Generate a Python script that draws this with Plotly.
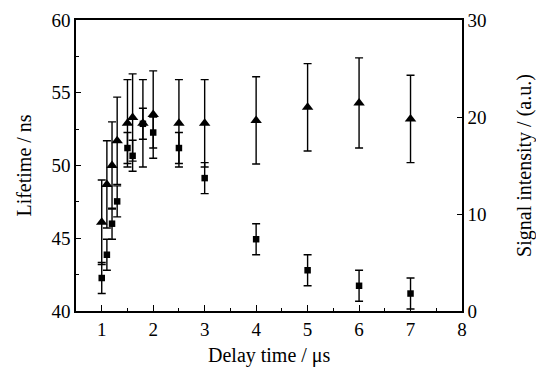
import plotly.graph_objects as go

# Data
delay = [1.0, 1.1, 1.2, 1.3, 1.5, 1.6, 1.8, 2.0, 2.5, 3.0, 4.0, 5.0, 6.0, 7.0]
lifetime = [46.1, 48.7, 50.0, 51.7, 52.9, 53.3, 52.9, 53.5, 52.9, 52.9, 53.1, 54.0, 54.3, 53.2]
lifetime_err = [2.9, 3.0, 3.0, 3.0, 3.0, 3.0, 3.0, 3.0, 3.0, 3.0, 3.0, 3.0, 3.1, 3.0]
signal = [3.4, 5.8, 9.0, 11.3, 16.8, 16.0, 19.3, 18.4, 16.8, 13.7, 7.4, 4.2, 2.6, 1.8]
signal_err = [1.6, 1.6, 1.6, 1.6, 1.6, 1.6, 1.6, 1.6, 1.6, 1.6, 1.6, 1.6, 1.6, 1.6]

x_ticks = [1, 2, 3, 4, 5, 6, 7, 8]

FONT = "Liberation Serif"
TICK_SIZE = 19
TITLE_SIZE = 20

fig = go.Figure()
fig.add_trace(go.Scatter(
    x=delay, y=lifetime, mode="markers", name="Lifetime",
    marker=dict(symbol="triangle-up", size=10, color="black"),
    error_y=dict(type="data", array=lifetime_err, color="black", thickness=1.4, width=4),
    yaxis="y",
))
fig.add_trace(go.Scatter(
    x=delay, y=signal, mode="markers", name="Signal intensity",
    marker=dict(symbol="square", size=6.5, color="black"),
    error_y=dict(type="data", array=signal_err, color="black", thickness=1.4, width=4),
    yaxis="y2",
))

axis_common = dict(
    showgrid=False, zeroline=False, showline=True, linecolor="black", linewidth=1.5,
    ticks="inside", tickcolor="black", tickwidth=1.3, automargin=False,
    tickfont=dict(family=FONT, size=TICK_SIZE, color="black"),
)

fig.update_layout(
    width=536, height=367,
    margin=dict(l=76, r=74, t=20, b=56),
    paper_bgcolor="white", plot_bgcolor="white",
    showlegend=False,
    font=dict(family=FONT, color="black"),
    xaxis=dict(
        **axis_common, range=[0.5, 8], tickvals=x_ticks, ticklen=6, mirror=True,
        minor=dict(ticks="inside", dtick=0.5, tick0=0.5, ticklen=3, tickcolor="black", tickwidth=1.2),
    ),
    yaxis=dict(
        **axis_common, range=[40, 60], dtick=5, ticklen=5, mirror=True,
        minor=dict(ticks="inside", dtick=2.5, ticklen=3, tickcolor="black", tickwidth=1.2),
        title=dict(text="Lifetime / ns", font=dict(family=FONT, size=TITLE_SIZE, color="black"), standoff=14),
    ),
    yaxis2=dict(
        **axis_common, range=[0, 30], dtick=10, ticklen=5, overlaying="y", side="right",
        title=dict(text="Signal intensity / (a.u.)", font=dict(family=FONT, size=TITLE_SIZE, color="black"), standoff=33),
    ),
    annotations=[dict(
        text="Delay time / μs", xref="paper", yref="paper", x=0.5, y=0,
        xanchor="center", yanchor="top", yshift=-31, showarrow=False,
        font=dict(family=FONT, size=TITLE_SIZE, color="black"),
    )],
)

fig.write_html("out.html")
